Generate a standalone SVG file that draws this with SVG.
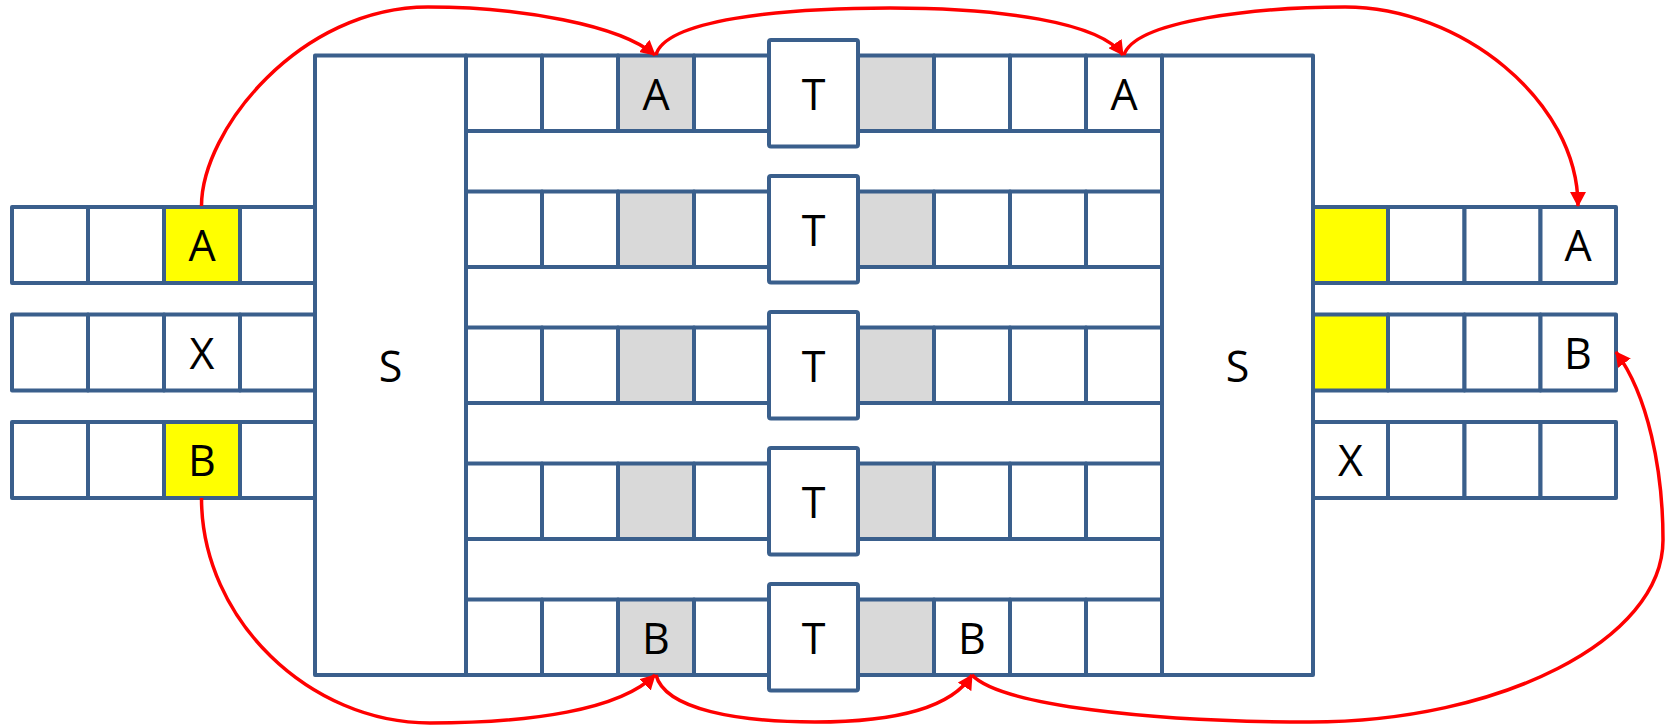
<svg xmlns="http://www.w3.org/2000/svg" width="1667" height="728" viewBox="0 0 1667 728">
<defs>
<style>
.c{fill:#fff;stroke:#3A5F8C;stroke-width:4;stroke-linejoin:round}
.g{fill:#D9D9D9;stroke:#3A5F8C;stroke-width:4;stroke-linejoin:round}
.y{fill:#FFFF00;stroke:#3A5F8C;stroke-width:4;stroke-linejoin:round}
.t{font-family:"Open Sans","Liberation Sans",sans-serif;font-size:43px;fill:#000;text-anchor:middle}
.e{fill:none;stroke:#FF0000;stroke-width:3.5;marker-end:url(#ah)}
</style>
<marker id="ah" viewBox="0 0 15 16" refX="14" refY="8" markerWidth="15" markerHeight="16" markerUnits="userSpaceOnUse" orient="auto">
<path d="M0,0 L15,8 L0,16 Z" fill="#FF0000"/>
</marker>
</defs>
<rect width="1667" height="728" fill="#fff"/>

<g id="s-left">
<rect class="c" x="315" y="55.5" width="151" height="619.5"/>
<text class="t" x="390.5" y="382">S</text>
</g>
<g id="s-right">
<rect class="c" x="1162" y="55.5" width="151" height="619.5"/>
<text class="t" x="1237.5" y="382">S</text>
</g>

<g id="left-row1">
<rect class="c" x="12" y="207" width="76" height="76"/>
<rect class="c" x="88" y="207" width="76" height="76"/>
<rect class="y" x="164" y="207" width="76" height="76"/>
<rect class="c" x="240" y="207" width="75" height="76"/>
<text class="t" x="202" y="261">A</text>
</g>
<g id="left-row2">
<rect class="c" x="12" y="314.5" width="76" height="76"/>
<rect class="c" x="88" y="314.5" width="76" height="76"/>
<rect class="c" x="164" y="314.5" width="76" height="76"/>
<rect class="c" x="240" y="314.5" width="75" height="76"/>
<text class="t" x="202" y="368.5">X</text>
</g>
<g id="left-row3">
<rect class="c" x="12" y="422" width="76" height="76"/>
<rect class="c" x="88" y="422" width="76" height="76"/>
<rect class="y" x="164" y="422" width="76" height="76"/>
<rect class="c" x="240" y="422" width="75" height="76"/>
<text class="t" x="202" y="476">B</text>
</g>

<g id="right-row1">
<rect class="y" x="1313" y="207" width="75" height="76"/>
<rect class="c" x="1388" y="207" width="76.5" height="76"/>
<rect class="c" x="1464.5" y="207" width="76" height="76"/>
<rect class="c" x="1540.5" y="207" width="75.5" height="76"/>
<text class="t" x="1578" y="261">A</text>
</g>
<g id="right-row2">
<rect class="y" x="1313" y="314.5" width="75" height="76"/>
<rect class="c" x="1388" y="314.5" width="76.5" height="76"/>
<rect class="c" x="1464.5" y="314.5" width="76" height="76"/>
<rect class="c" x="1540.5" y="314.5" width="75.5" height="76"/>
<text class="t" x="1578" y="368.5">B</text>
</g>
<g id="right-row3">
<rect class="c" x="1313" y="422" width="75" height="76"/>
<rect class="c" x="1388" y="422" width="76.5" height="76"/>
<rect class="c" x="1464.5" y="422" width="76" height="76"/>
<rect class="c" x="1540.5" y="422" width="75.5" height="76"/>
<text class="t" x="1350.5" y="476">X</text>
</g>

<g id="mid-row1">
<rect class="c" x="466" y="55.5" width="76" height="75.5"/>
<rect class="c" x="542" y="55.5" width="76" height="75.5"/>
<rect class="g" x="618" y="55.5" width="76" height="75.5"/>
<rect class="c" x="694" y="55.5" width="75" height="75.5"/>
<rect class="g" x="858" y="55.5" width="76" height="75.5"/>
<rect class="c" x="934" y="55.5" width="76" height="75.5"/>
<rect class="c" x="1010" y="55.5" width="76" height="75.5"/>
<rect class="c" x="1086" y="55.5" width="76" height="75.5"/>
<rect class="c" x="769" y="40" width="89" height="106.5" rx="2"/>
<text class="t" x="656" y="109.5">A</text>
<text class="t" x="813.5" y="109.5">T</text>
<text class="t" x="1124" y="109.5">A</text>
</g>
<g id="mid-row2">
<rect class="c" x="466" y="191.5" width="76" height="75.5"/>
<rect class="c" x="542" y="191.5" width="76" height="75.5"/>
<rect class="g" x="618" y="191.5" width="76" height="75.5"/>
<rect class="c" x="694" y="191.5" width="75" height="75.5"/>
<rect class="g" x="858" y="191.5" width="76" height="75.5"/>
<rect class="c" x="934" y="191.5" width="76" height="75.5"/>
<rect class="c" x="1010" y="191.5" width="76" height="75.5"/>
<rect class="c" x="1086" y="191.5" width="76" height="75.5"/>
<rect class="c" x="769" y="176" width="89" height="106.5" rx="2"/>
<text class="t" x="813.5" y="245.5">T</text>
</g>
<g id="mid-row3">
<rect class="c" x="466" y="327.5" width="76" height="75.5"/>
<rect class="c" x="542" y="327.5" width="76" height="75.5"/>
<rect class="g" x="618" y="327.5" width="76" height="75.5"/>
<rect class="c" x="694" y="327.5" width="75" height="75.5"/>
<rect class="g" x="858" y="327.5" width="76" height="75.5"/>
<rect class="c" x="934" y="327.5" width="76" height="75.5"/>
<rect class="c" x="1010" y="327.5" width="76" height="75.5"/>
<rect class="c" x="1086" y="327.5" width="76" height="75.5"/>
<rect class="c" x="769" y="312" width="89" height="106.5" rx="2"/>
<text class="t" x="813.5" y="381.5">T</text>
</g>
<g id="mid-row4">
<rect class="c" x="466" y="463.5" width="76" height="75.5"/>
<rect class="c" x="542" y="463.5" width="76" height="75.5"/>
<rect class="g" x="618" y="463.5" width="76" height="75.5"/>
<rect class="c" x="694" y="463.5" width="75" height="75.5"/>
<rect class="g" x="858" y="463.5" width="76" height="75.5"/>
<rect class="c" x="934" y="463.5" width="76" height="75.5"/>
<rect class="c" x="1010" y="463.5" width="76" height="75.5"/>
<rect class="c" x="1086" y="463.5" width="76" height="75.5"/>
<rect class="c" x="769" y="448" width="89" height="106.5" rx="2"/>
<text class="t" x="813.5" y="517.5">T</text>
</g>
<g id="mid-row5">
<rect class="c" x="466" y="599.5" width="76" height="75.5"/>
<rect class="c" x="542" y="599.5" width="76" height="75.5"/>
<rect class="g" x="618" y="599.5" width="76" height="75.5"/>
<rect class="c" x="694" y="599.5" width="75" height="75.5"/>
<rect class="g" x="858" y="599.5" width="76" height="75.5"/>
<rect class="c" x="934" y="599.5" width="76" height="75.5"/>
<rect class="c" x="1010" y="599.5" width="76" height="75.5"/>
<rect class="c" x="1086" y="599.5" width="76" height="75.5"/>
<rect class="c" x="769" y="584" width="89" height="106.5" rx="2"/>
<text class="t" x="656" y="653.5">B</text>
<text class="t" x="813.5" y="653.5">T</text>
<text class="t" x="972" y="653.5">B</text>
</g>

<g id="connectors">
<path class="e" d="M201.5,206 C201.5,130 300,7 428,7 C520,7 620,25 655,55"/>
<path class="e" d="M656,55 C665,20 780,8 890,8 C1000,8 1100,22 1123,55"/>
<path class="e" d="M1124,55 C1135,20 1260,7 1345,7 C1460,7 1578,100 1578,206"/>
<path class="e" d="M201.5,498 C201.5,620 310,723 430,723 C530,723 620,710 655,675"/>
<path class="e" d="M656,675 C665,710 740,722 815,722 C890,722 950,710 972,675"/>
<path class="e" d="M972,675 C1000,705 1150,722 1310,722 C1500,722 1663,640 1663,540 C1663,470 1648,395 1616,352"/>
</g>
</svg>
